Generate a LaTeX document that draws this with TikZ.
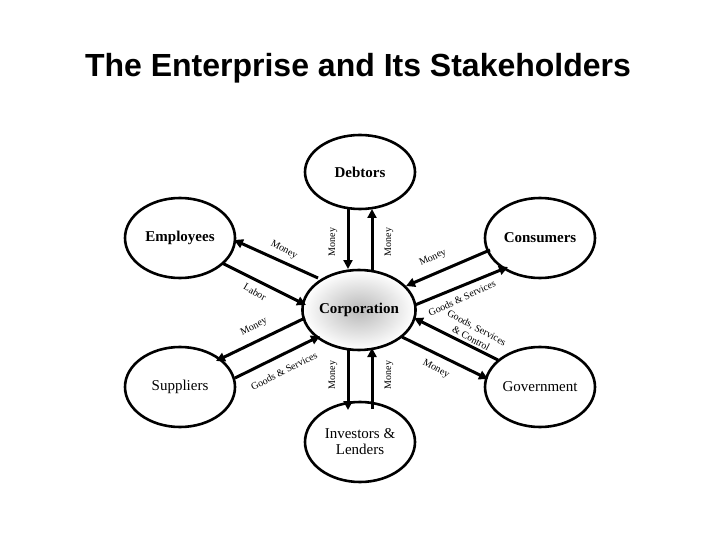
\documentclass[tikz,border=0pt]{standalone}
\usepackage{fontspec}
\setmainfont{Liberation Serif}
\newfontfamily\titlefont{Liberation Sans}
\usetikzlibrary{arrows.meta,shapes.geometric}
\begin{document}
\begin{tikzpicture}[x=1pt,y=-1pt,
  ell/.style={draw,line width=2.6pt,ellipse,minimum width=110pt,minimum height=80pt,inner sep=0pt,align=center,font=\fontsize{15}{16}\selectfont},
  flow/.style={line width=3pt,-{Triangle[length=9pt,width=9pt]}},
  lab/.style={font=\fontsize{10}{11}\selectfont,align=center,inner sep=0pt}]
\useasboundingbox (0,0) rectangle (720,540);
\node[font=\titlefont\bfseries\fontsize{32}{36}\selectfont] (title) at (358,68) {The Enterprise and Its Stakeholders};
\node[ell,inner color=gray!55,outer color=white] (corp) at (359,310) {\textbf{Corporation}};
\node[ell,minimum height=74pt] (debt) at (360,172) {\textbf{Debtors}};
\node[ell] (emp) at (180,238) {\textbf{Employees}};
\node[ell] (cons) at (540,238) {\textbf{Consumers}};
\node[ell] (sup) at (180,387) {Suppliers};
\node[ell] (gov) at (540,387) {Government};
\node[ell] (inv) at (360,442) {Investors \&\\Lenders};
\coordinate (d1) at (348,208); \coordinate (d2) at (348,269);
\coordinate (d3) at (372,270); \coordinate (d4) at (372,209);
\draw[flow] (d1) -- (d2); \draw[flow] (d3) -- (d4);
\coordinate (i1) at (348,349); \coordinate (i2) at (348,410);
\coordinate (i3) at (372,409); \coordinate (i4) at (372,348);
\draw[flow] (i1) -- (i2); \draw[flow] (i3) -- (i4);
\coordinate (e1) at (318,278); \coordinate (e2) at (234,240);
\coordinate (e3) at (222,263); \coordinate (e4) at (306,305);
\draw[flow] (e1) -- (e2); \draw[flow] (e3) -- (e4);
\coordinate (s1) at (305,318); \coordinate (s2) at (216,361);
\coordinate (s3) at (235,378); \coordinate (s4) at (320,336);
\draw[flow] (s1) -- (s2); \draw[flow] (s3) -- (s4);
\coordinate (c1) at (490,250); \coordinate (c2) at (406,286);
\coordinate (c3) at (415,305); \coordinate (c4) at (508,267);
\draw[flow] (c1) -- (c2); \draw[flow] (c3) -- (c4);
\coordinate (g1) at (498,360); \coordinate (g2) at (414,318);
\coordinate (g3) at (402,337); \coordinate (g4) at (488,379);
\draw[flow] (g1) -- (g2); \draw[flow] (g3) -- (g4);
\node[lab,rotate=90] (l1) at (333,242) {Money};
\node[lab,rotate=90] (l2) at (389,242) {Money};
\node[lab,rotate=90] (l3) at (333,375) {Money};
\node[lab,rotate=90] (l4) at (389,375) {Money};
\node[lab,rotate=-28] (l5) at (284,250) {Money};
\node[lab,rotate=-30] (l6) at (255,292) {Labor};
\node[lab,rotate=27] (l7) at (254,327) {Money};
\node[lab,rotate=27] (l8) at (284,371) {Goods \& Services};
\node[lab,rotate=25] (l9) at (433,258) {Money};
\node[lab,rotate=25] (l10) at (462,298) {Goods \& Services};
\node[lab,rotate=-28,font=\fontsize{10}{12}\selectfont] (l11) at (474,333) {Goods, Services\\\& Control};
\node[lab,rotate=-28] (l12) at (436,369) {Money};
\end{tikzpicture}
\end{document}
